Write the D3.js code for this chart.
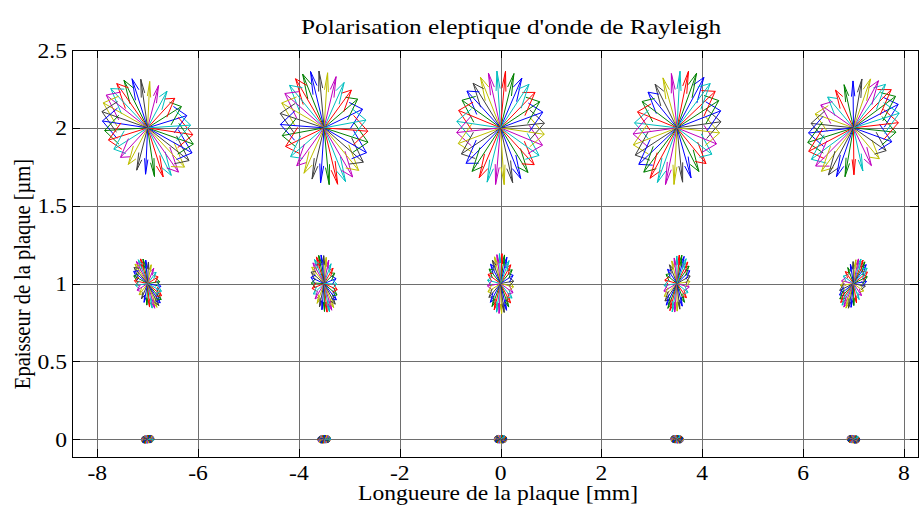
<!DOCTYPE html>
<html>
<head>
<meta charset="utf-8">
<script src="https://cdn.jsdelivr.net/npm/d3@7"></script>
<style>
  html, body { margin: 0; padding: 0; background: #fff; }
  svg { display: block; }
  text { font-family: "Liberation Serif", "Times New Roman", Times, "DejaVu Serif", serif; }
</style>
</head>
<body>
<svg id="chart" width="920" height="506"></svg>
<script>
// Positions along the plate [mm] and depths in the plate [µm]
const columns = [-7, -3.5, 0, 3.5, 7];
const depths = [0, 1, 2];

// Displacement amplitudes per column, for each depth:
// horizontal [mm] and vertical [µm] semi-axes of the polarisation ellipse
const ampXDepth0 = [0.13, 0.13, 0.13, 0.13, 0.13];
const ampYDepth0 = [0.026, 0.026, 0.026, 0.026, 0.026];
const ampXDepth1 = [0.24, 0.25, 0.26, 0.25, 0.24];
const ampYDepth1 = [0.165, 0.185, 0.193, 0.185, 0.165];
const ampXDepth2 = [0.79, 0.843, 0.873, 0.843, 0.79];
const ampYDepth2 = [0.347, 0.373, 0.366, 0.373, 0.347];

// Tilt of the polarisation ellipse at each column, per depth (degrees)
const tiltDepth0 = [8, 4, 0, -4, -8];
const tiltDepth1 = [18, 8, 0, -8, -18];
const tiltDepth2 = [38, 17, 0, -17, -38];

// Phase of the first time step at each column (degrees)
const phaseStart = [-15.5, 6.5, 61, 75, 58.5];

// Time steps over one period
const timeSteps = [0, 1, 2, 3, 4, 5, 6, 7, 8, 9, 10, 11, 12, 13, 14, 15,
                   16, 17, 18, 19, 20, 21, 22, 23, 24, 25, 26, 27, 28, 29, 30, 31];

// Line colour cycle of the plotted time steps
const colorOrder = ["#0000ff", "#008000", "#ff0000", "#00bfbf", "#bf00bf", "#bfbf00", "#404040"];

const xTicks = [-8, -6, -4, -2, 0, 2, 4, 6, 8];
const yTicks = [0, 0.5, 1, 1.5, 2, 2.5];
const xDomain = [-8.5, 8.28];
const yDomain = [-0.114, 2.5];

const titleText = "Polarisation eleptique d'onde de Rayleigh";
const xLabelText = "Longueure de la plaque [mm]";
const yLabelText = "Epaisseur de la plaque [\u00b5m]";

// ---------------------------------------------------------------
const svg = d3.select("#chart");
const pLeft = 72, pTop = 50, pRight = 918, pBottom = 457;
const stretch = 1.15;   // the figure's text is widened horizontally

const x = d3.scaleLinear().domain(xDomain).range([pLeft, pRight]);
const y = d3.scaleLinear().domain(yDomain).range([pBottom, pTop]);

svg.append("defs").append("clipPath").attr("id", "plot-area")
  .append("rect").attr("x", pLeft).attr("y", pTop)
  .attr("width", pRight - pLeft).attr("height", pBottom - pTop);

// Grid
const grid = svg.append("g").attr("stroke", "#6e6e6e").attr("stroke-width", 1).attr("fill", "none");
xTicks.forEach(t => {
  const px = Math.round(x(t)) + 0.5;
  grid.append("line").attr("x1", px).attr("x2", px).attr("y1", pTop).attr("y2", pBottom);
});
yTicks.forEach(t => {
  const py = Math.round(y(t)) + 0.5;
  grid.append("line").attr("x1", pLeft).attr("x2", pRight).attr("y1", py).attr("y2", py);
});

// Quiver arrows: one set per time step, each time step with the next colour
const ampX = [ampXDepth0, ampXDepth1, ampXDepth2];
const ampY = [ampYDepth0, ampYDepth1, ampYDepth2];
const tilts = [tiltDepth0, tiltDepth1, tiltDepth2];
const alpha = 0.33, beta = 0.33;   // arrow head length and width relative to the vector
const dPhase = 360 / timeSteps.length;
const arrows = svg.append("g").attr("clip-path", "url(#plot-area)")
  .attr("fill", "none").attr("stroke-width", 1).attr("stroke-linejoin", "miter");

timeSteps.forEach(step => {
  const color = colorOrder[step % colorOrder.length];
  let d = "";
  depths.forEach((z, di) => {
    columns.forEach((cx, ci) => {
      const phi = (phaseStart[ci] + step * dPhase) * Math.PI / 180;
      const th = tilts[di][ci] * Math.PI / 180;
      // ellipse offset on screen, then tilted
      const ex = x(cx + ampX[di][ci] * Math.cos(phi)) - x(cx);
      const ey = y(z + ampY[di][ci] * Math.sin(phi)) - y(z);
      const rx = ex * Math.cos(th) + ey * Math.sin(th);
      const ry = -ex * Math.sin(th) + ey * Math.cos(th);
      // back to data components
      const u = x.invert(x(cx) + rx) - cx;
      const v = y.invert(y(z) + ry) - z;
      const tx = cx + u, ty = z + v;
      const h1x = tx - alpha * (u + beta * v), h1y = ty - alpha * (v - beta * u);
      const h2x = tx - alpha * (u - beta * v), h2y = ty - alpha * (v + beta * u);
      d += `M${x(cx)},${y(z)}L${x(tx)},${y(ty)}`;
      d += `M${x(h1x)},${y(h1y)}L${x(tx)},${y(ty)}L${x(h2x)},${y(h2y)}`;
    });
  });
  arrows.append("path").attr("d", d).attr("stroke", color);
});

// Axes box and inward ticks
const axes = svg.append("g").attr("stroke", "#000").attr("stroke-width", 1).attr("fill", "none");
axes.append("rect").attr("x", pLeft + 0.5).attr("y", pTop + 0.5)
  .attr("width", pRight - pLeft).attr("height", pBottom - pTop);
const tickLen = 8;
xTicks.forEach(t => {
  const px = Math.round(x(t)) + 0.5;
  axes.append("line").attr("x1", px).attr("x2", px).attr("y1", pBottom).attr("y2", pBottom - tickLen);
  axes.append("line").attr("x1", px).attr("x2", px).attr("y1", pTop).attr("y2", pTop + tickLen);
});
yTicks.forEach(t => {
  const py = Math.round(y(t)) + 0.5;
  axes.append("line").attr("x1", pLeft).attr("x2", pLeft + tickLen).attr("y1", py).attr("y2", py);
  axes.append("line").attr("x1", pRight).attr("x2", pRight - tickLen).attr("y1", py).attr("y2", py);
});

// Horizontal text, widened by the figure stretch
function hText(g, px, py, str, size, anchor) {
  return g.append("text")
    .attr("transform", `translate(${px},${py}) scale(${stretch},1)`)
    .attr("text-anchor", anchor).attr("font-size", size).text(str);
}

// Tick labels
const labels = svg.append("g").attr("fill", "#000");
xTicks.forEach(t => {
  hText(labels, x(t), 480, t < 0 ? "-" + Math.abs(t) : String(t), 20.5, "middle");
});
yTicks.forEach(t => {
  hText(labels, pLeft - 5, y(t) + 7.5, String(t), 20.5, "end");
});

// Title and axis labels
hText(svg, 511, 34, titleText, 22, "middle");
hText(svg, 498, 500, xLabelText, 20.5, "middle");
svg.append("text")
  .attr("transform", `translate(30,274) rotate(-90) scale(1,${stretch})`)
  .attr("text-anchor", "middle").attr("font-size", 20.5).text(yLabelText);
</script>
</body>
</html>
